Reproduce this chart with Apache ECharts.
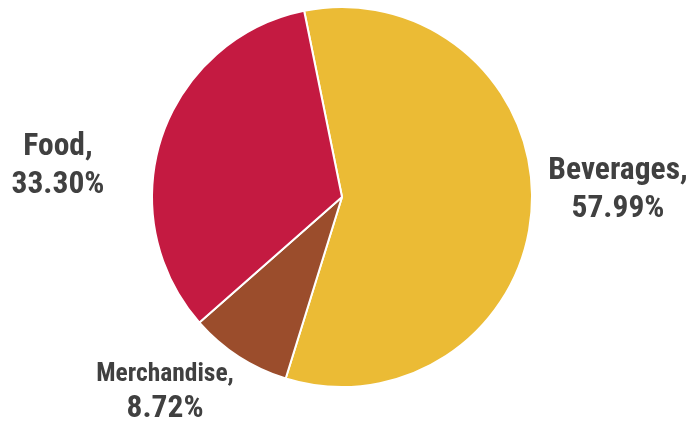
<!DOCTYPE html>
<html>
<head>
<meta charset="utf-8">
<script src="https://cdn.jsdelivr.net/npm/echarts@6/dist/echarts.min.js"></script>
<style>
  html, body { margin: 0; padding: 0; background: #fff; }
  #chart { width: 698px; height: 425px; }
</style>
</head>
<body>
<div id="chart"></div>
<script>
// Sales mix by category (percent of total)
const categories = ['Beverages', 'Merchandise', 'Food'];
const shares = [57.99, 8.72, 33.30];
const colors = ['#EBBB35', '#9B4D2C', '#C41A41'];

// Where each category's label sits around the pie
const labelSpots = {
  Beverages:   { x: 618, y: 190, name: 'big' },
  Merchandise: { x: 165, y: 394, name: 'small' },
  Food:        { x: 58,  y: 166, name: 'big' }
};

const chart = echarts.init(document.getElementById('chart'), null, { renderer: 'canvas' });

const FONT = '"Liberation Sans Narrow", "Arial Narrow", "Roboto Condensed", sans-serif';

chart.setOption({
  animation: false,
  series: [{
    type: 'pie',
    center: [342, 197],
    radius: [0, 190],
    startAngle: 101.5,
    clockwise: true,
    avoidLabelOverlap: false,
    itemStyle: { borderColor: '#ffffff', borderWidth: 2 },
    label: {
      show: true,
      position: 'outside',
      formatter: function (p) {
        const spot = labelSpots[p.name];
        return '{' + spot.name + '|' + p.name + ',}\n{val|' + p.value.toFixed(2) + '%}';
      },
      rich: {
        big:   { fontFamily: FONT, fontWeight: 'bold', fontSize: 31.5, color: '#404040', lineHeight: 38, align: 'center' },
        small: { fontFamily: FONT, fontWeight: 'bold', fontSize: 25.5, color: '#404040', lineHeight: 30, align: 'center' },
        val:   { fontFamily: FONT, fontWeight: 'bold', fontSize: 31.5, color: '#404040', lineHeight: 38, align: 'center' }
      }
    },
    labelLine: { show: false },
    labelLayout: function (params) {
      const spot = labelSpots[categories[params.dataIndex]];
      return { x: spot.x, y: spot.y, align: 'center', verticalAlign: 'middle' };
    },
    data: categories.map((c, i) => ({ name: c, value: shares[i], itemStyle: { color: colors[i] } }))
  }]
});
</script>
</body>
</html>
